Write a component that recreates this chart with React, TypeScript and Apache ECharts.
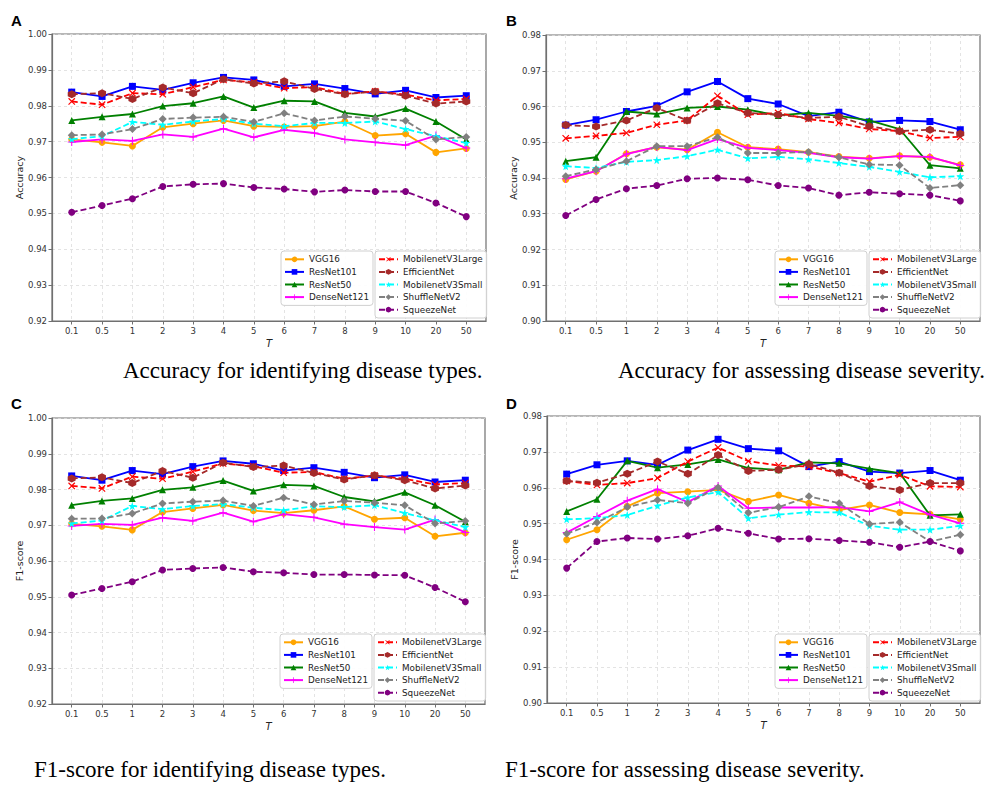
import React, { useEffect, useRef } from 'react';
import * as echarts from 'echarts';

const T_LABELS = ['0.1', '0.5', '1', '2', '3', '4', '5', '6', '7', '8', '9', '10', '20', '50'];
const MODELS = ['VGG16', 'ResNet101', 'ResNet50', 'DenseNet121', 'MobilenetV3Large', 'EfficientNet', 'MobilenetV3Small', 'ShuffleNetV2', 'SqueezeNet'];
const LEGEND_LEFT = ['VGG16', 'ResNet101', 'ResNet50', 'DenseNet121'];
const LEGEND_RIGHT = ['MobilenetV3Large', 'EfficientNet', 'MobilenetV3Small', 'ShuffleNetV2', 'SqueezeNet'];

// Panel A: accuracy, disease types
const A_VGG16 = [0.9706, 0.9698, 0.9688, 0.9740, 0.9750, 0.9759, 0.9743, 0.9741, 0.9743, 0.9756, 0.9717, 0.9722, 0.9670, 0.9681];
const A_RESNET101 = [0.9838, 0.9826, 0.9854, 0.9844, 0.9864, 0.9879, 0.9872, 0.9854, 0.9861, 0.9848, 0.9833, 0.9843, 0.9823, 0.9828];
const A_RESNET50 = [0.9759, 0.9769, 0.9777, 0.9799, 0.9807, 0.9826, 0.9795, 0.9814, 0.9812, 0.9780, 0.9770, 0.9792, 0.9756, 0.9706];
const A_DENSENET121 = [0.9699, 0.9706, 0.9702, 0.9720, 0.9713, 0.9736, 0.9712, 0.9733, 0.9724, 0.9706, 0.9698, 0.9690, 0.9717, 0.9682];
const A_MOBV3L = [0.9812, 0.9803, 0.9835, 0.9832, 0.9852, 0.9872, 0.9865, 0.9849, 0.9852, 0.9833, 0.9840, 0.9831, 0.9815, 0.9819];
const A_EFFICIENT = [0.9832, 0.9835, 0.9819, 0.9851, 0.9835, 0.9874, 0.9862, 0.9868, 0.9847, 0.9832, 0.9840, 0.9828, 0.9806, 0.9812];
const A_MOBV3S = [0.9707, 0.9715, 0.9755, 0.9747, 0.9756, 0.9763, 0.9750, 0.9743, 0.9752, 0.9752, 0.9756, 0.9735, 0.9715, 0.9696];
const A_SHUFFLE = [0.9718, 0.9720, 0.9735, 0.9763, 0.9767, 0.9769, 0.9755, 0.9779, 0.9759, 0.9770, 0.9764, 0.9758, 0.9706, 0.9713];
const A_SQUEEZE = [0.9503, 0.9522, 0.9541, 0.9575, 0.9581, 0.9583, 0.9572, 0.9568, 0.9560, 0.9565, 0.9561, 0.9561, 0.9529, 0.9491];

// Panel B: accuracy, disease severity
const B_VGG16 = [0.9396, 0.9419, 0.9468, 0.9486, 0.9479, 0.9528, 0.9486, 0.9481, 0.9472, 0.9460, 0.9455, 0.9462, 0.9458, 0.9437];
const B_RESNET101 = [0.9548, 0.9563, 0.9586, 0.9602, 0.9641, 0.9670, 0.9622, 0.9607, 0.9573, 0.9584, 0.9557, 0.9561, 0.9558, 0.9535];
const B_RESNET50 = [0.9447, 0.9458, 0.9586, 0.9579, 0.9596, 0.9600, 0.9591, 0.9575, 0.9582, 0.9574, 0.9561, 0.9537, 0.9436, 0.9427];
const B_DENSENET121 = [0.9398, 0.9419, 0.9467, 0.9487, 0.9478, 0.9509, 0.9484, 0.9478, 0.9470, 0.9458, 0.9454, 0.9461, 0.9459, 0.9435];
const B_MOBV3L = [0.9511, 0.9518, 0.9526, 0.9549, 0.9561, 0.9630, 0.9577, 0.9582, 0.9565, 0.9554, 0.9537, 0.9531, 0.9512, 0.9515];
const B_EFFICIENT = [0.9548, 0.9544, 0.9561, 0.9596, 0.9561, 0.9609, 0.9582, 0.9577, 0.9568, 0.9571, 0.9545, 0.9531, 0.9535, 0.9524];
const B_MOBV3S = [0.9433, 0.9428, 0.9445, 0.9450, 0.9461, 0.9479, 0.9455, 0.9459, 0.9452, 0.9442, 0.9431, 0.9417, 0.9402, 0.9405];
const B_SHUFFLE = [0.9405, 0.9424, 0.9447, 0.9489, 0.9489, 0.9514, 0.9470, 0.9470, 0.9473, 0.9458, 0.9438, 0.9436, 0.9372, 0.9380];
const B_SQUEEZE = [0.9295, 0.9340, 0.9370, 0.9379, 0.9398, 0.9400, 0.9395, 0.9379, 0.9372, 0.9352, 0.9360, 0.9356, 0.9352, 0.9336];

// Panel C: F1-score, disease types
const C_VGG16 = [0.9704, 0.9697, 0.9687, 0.9737, 0.9747, 0.9757, 0.9741, 0.9734, 0.9742, 0.9753, 0.9717, 0.9721, 0.9669, 0.9679];
const C_RESNET101 = [0.9838, 0.9826, 0.9853, 0.9843, 0.9864, 0.9880, 0.9872, 0.9853, 0.9861, 0.9848, 0.9833, 0.9841, 0.9821, 0.9826];
const C_RESNET50 = [0.9756, 0.9768, 0.9775, 0.9799, 0.9806, 0.9825, 0.9796, 0.9813, 0.9810, 0.9779, 0.9767, 0.9792, 0.9756, 0.9710];
const C_DENSENET121 = [0.9698, 0.9704, 0.9701, 0.9721, 0.9712, 0.9735, 0.9710, 0.9731, 0.9722, 0.9703, 0.9695, 0.9688, 0.9716, 0.9680];
const C_MOBV3L = [0.9810, 0.9803, 0.9836, 0.9830, 0.9850, 0.9873, 0.9865, 0.9847, 0.9849, 0.9830, 0.9839, 0.9830, 0.9814, 0.9818];
const C_EFFICIENT = [0.9831, 0.9834, 0.9818, 0.9852, 0.9833, 0.9875, 0.9863, 0.9867, 0.9846, 0.9828, 0.9840, 0.9826, 0.9803, 0.9811];
const C_MOBV3S = [0.9705, 0.9713, 0.9754, 0.9745, 0.9754, 0.9759, 0.9749, 0.9742, 0.9753, 0.9751, 0.9756, 0.9734, 0.9714, 0.9695];
const C_SHUFFLE = [0.9718, 0.9719, 0.9733, 0.9761, 0.9766, 0.9769, 0.9754, 0.9777, 0.9758, 0.9768, 0.9763, 0.9756, 0.9705, 0.9712];
const C_SQUEEZE = [0.9505, 0.9523, 0.9542, 0.9575, 0.9579, 0.9582, 0.9570, 0.9567, 0.9562, 0.9562, 0.9561, 0.9560, 0.9526, 0.9486];

// Panel D: F1-score, disease severity
const D_VGG16 = [0.9455, 0.9483, 0.9548, 0.9585, 0.9589, 0.9594, 0.9562, 0.9580, 0.9557, 0.9538, 0.9552, 0.9531, 0.9526, 0.9512];
const D_RESNET101 = [0.9638, 0.9664, 0.9675, 0.9664, 0.9705, 0.9735, 0.9709, 0.9703, 0.9659, 0.9673, 0.9645, 0.9641, 0.9648, 0.9621];
const D_RESNET50 = [0.9534, 0.9568, 0.9675, 0.9656, 0.9665, 0.9679, 0.9655, 0.9650, 0.9671, 0.9668, 0.9653, 0.9641, 0.9523, 0.9526];
const D_DENSENET121 = [0.9475, 0.9520, 0.9564, 0.9596, 0.9560, 0.9605, 0.9543, 0.9545, 0.9545, 0.9546, 0.9534, 0.9560, 0.9525, 0.9501];
const D_MOBV3L = [0.9619, 0.9608, 0.9613, 0.9627, 0.9673, 0.9712, 0.9674, 0.9662, 0.9659, 0.9641, 0.9617, 0.9636, 0.9604, 0.9602];
const D_EFFICIENT = [0.9619, 0.9614, 0.9639, 0.9673, 0.9639, 0.9691, 0.9647, 0.9650, 0.9666, 0.9642, 0.9605, 0.9594, 0.9613, 0.9613];
const D_MOBV3S = [0.9512, 0.9515, 0.9524, 0.9550, 0.9573, 0.9588, 0.9515, 0.9525, 0.9532, 0.9531, 0.9494, 0.9483, 0.9483, 0.9494];
const D_SHUFFLE = [0.9472, 0.9503, 0.9546, 0.9566, 0.9557, 0.9601, 0.9530, 0.9546, 0.9576, 0.9557, 0.9499, 0.9504, 0.9450, 0.9469];
const D_SQUEEZE = [0.9376, 0.9450, 0.9460, 0.9457, 0.9466, 0.9487, 0.9473, 0.9457, 0.9458, 0.9453, 0.9448, 0.9434, 0.9450, 0.9424];

const PANEL_DATA = [
  [A_VGG16, A_RESNET101, A_RESNET50, A_DENSENET121, A_MOBV3L, A_EFFICIENT, A_MOBV3S, A_SHUFFLE, A_SQUEEZE],
  [B_VGG16, B_RESNET101, B_RESNET50, B_DENSENET121, B_MOBV3L, B_EFFICIENT, B_MOBV3S, B_SHUFFLE, B_SQUEEZE],
  [C_VGG16, C_RESNET101, C_RESNET50, C_DENSENET121, C_MOBV3L, C_EFFICIENT, C_MOBV3S, C_SHUFFLE, C_SQUEEZE],
  [D_VGG16, D_RESNET101, D_RESNET50, D_DENSENET121, D_MOBV3L, D_EFFICIENT, D_MOBV3S, D_SHUFFLE, D_SQUEEZE],
];
const Y_MIN = [0.92, 0.90, 0.92, 0.90];
const Y_MAX = [1.00, 0.98, 1.00, 0.98];
const Y_NAMES = ['Accuracy', 'Accuracy', 'F1-score', 'F1-score'];
const LETTERS = ['A', 'B', 'C', 'D'];
const CAPTIONS = [
  'Accuracy for identifying disease types.',
  'Accuracy for assessing disease severity.',
  'F1-score for identifying disease types.',
  'F1-score for assessing disease severity.',
];

// layout (pixels)
const GRIDS = [
  { left: 52, top: 34, width: 434, height: 287 },
  { left: 546, top: 35, width: 434, height: 286 },
  { left: 52, top: 418, width: 433, height: 286 },
  { left: 547, top: 416, width: 433, height: 287 },
];
const LEGEND_POS = [
  [{ left: 281, top: 251 }, { left: 375, top: 251 }],
  [{ left: 775, top: 251 }, { left: 869, top: 251 }],
  [{ left: 280, top: 634 }, { left: 374, top: 634 }],
  [{ left: 775, top: 634 }, { left: 869, top: 634 }],
];
const LETTER_POS = [[11, 13], [506, 13], [11, 396], [506, 396]];
const CAPTION_POS = [[123, 370], [618, 370], [34, 769], [505, 769]];

const PLUS = 'path://M4.35,0H5.65V4.35H10V5.65H5.65V10H4.35V5.65H0V4.35H4.35Z';
const STAR = 'path://M5,0L6.18,3.38L9.76,3.45L6.9,5.62L7.94,9.05L5,7L2.06,9.05L3.1,5.62L0.24,3.45L3.82,3.38Z';
const HEX = 'path://M5,0L9.33,2.5L9.33,7.5L5,10L0.67,7.5L0.67,2.5Z';

const STYLE: Record<string, any> = {
  VGG16: { color: '#FFA500', dashed: false, symbol: 'circle', size: 7, rotate: 0 },
  ResNet101: { color: '#0000FF', dashed: false, symbol: 'rect', size: 7, rotate: 0 },
  ResNet50: { color: '#008000', dashed: false, symbol: 'triangle', size: 7, rotate: 0 },
  DenseNet121: { color: '#FF00FF', dashed: false, symbol: PLUS, size: 8, rotate: 0 },
  MobilenetV3Large: { color: '#FF0000', dashed: true, symbol: PLUS, size: 9, rotate: 45 },
  EfficientNet: { color: '#A52A2A', dashed: true, symbol: HEX, size: 8, rotate: 0 },
  MobilenetV3Small: { color: '#00FFFF', dashed: true, symbol: STAR, size: 8, rotate: 0 },
  ShuffleNetV2: { color: '#808080', dashed: true, symbol: 'diamond', size: 8, rotate: 0 },
  SqueezeNet: { color: '#800080', dashed: true, symbol: 'circle', size: 7, rotate: 0 },
};

const FONT = 'DejaVu Sans';
const IDX = T_LABELS.map((_, i) => i);

export default function App() {
  const ref = useRef<HTMLDivElement>(null);
  useEffect(() => {
    if (!ref.current) return;
    const chart = echarts.init(ref.current, null, { renderer: 'svg' });

    const grid = GRIDS.map((g) => ({ ...g, show: true, borderColor: '#707070', borderWidth: 1.2, backgroundColor: 'transparent' }));

    const xAxis = GRIDS.map((_, p) => ({
      type: 'value', gridIndex: p, min: -0.65, max: 13.65,
      name: 'T', nameLocation: 'middle', nameGap: 17,
      nameTextStyle: { fontStyle: 'italic', fontSize: 10, color: '#222', fontFamily: FONT },
      axisLine: { show: true, onZero: false, lineStyle: { color: '#707070', width: 1.2 } },
      axisTick: { show: true, customValues: IDX, length: 3.5, lineStyle: { color: '#707070', width: 1 } },
      axisLabel: { customValues: IDX, formatter: (v: number) => T_LABELS[Math.round(v)], fontSize: 8.5, color: '#333', margin: 5, fontFamily: FONT },
      splitLine: { show: true, lineStyle: { color: '#dcdcdc', type: [3, 3], width: 0.8 } },
    }));

    const yAxis = GRIDS.map((_, p) => ({
      type: 'value', gridIndex: p, min: Y_MIN[p], max: Y_MAX[p], interval: 0.01,
      name: Y_NAMES[p], nameLocation: 'middle', nameGap: 28,
      nameTextStyle: { fontSize: 9.5, color: '#222', fontFamily: FONT },
      axisLine: { show: true, onZero: false, lineStyle: { color: '#707070', width: 1.2 } },
      axisTick: { show: true, length: 3.5, lineStyle: { color: '#707070', width: 1 } },
      axisLabel: { formatter: (v: number) => v.toFixed(2), fontSize: 8.5, color: '#333', margin: 5, fontFamily: FONT },
      splitLine: { show: true, lineStyle: { color: '#dcdcdc', type: [3, 3], width: 0.8 } },
    }));

    const series: any[] = [];
    PANEL_DATA.forEach((arrs, p) => {
      arrs.forEach((vals, m) => {
        const name = MODELS[m];
        const st = STYLE[name];
        series.push({
          type: 'line', name, xAxisIndex: p, yAxisIndex: p,
          data: vals.map((v, i) => [i, v]),
          symbol: st.symbol, symbolSize: st.size, symbolRotate: st.rotate,
          showSymbol: true,
          lineStyle: { color: st.color, width: 1.8, type: st.dashed ? [6, 3] : 'solid' },
          itemStyle: { color: st.color, borderWidth: 0 },
          z: 2 + m,
          emphasis: { disabled: true },
        });
      });
    });

    const legendBase = {
      orient: 'vertical', itemWidth: 19, itemHeight: 7, itemGap: 0,
      padding: [2, 4, 2, 3], backgroundColor: 'rgba(255,255,255,0.9)', borderColor: '#d0d0d0', borderWidth: 1, borderRadius: 3,
      selectedMode: false,
      textStyle: { fontSize: 8.8, color: '#222', fontFamily: FONT, lineHeight: 12.6 },
      z: 20,
    };
    const legend: any[] = [];
    LEGEND_POS.forEach((pair) => {
      legend.push({ ...legendBase, ...pair[0], data: LEGEND_LEFT });
      legend.push({ ...legendBase, ...pair[1], data: LEGEND_RIGHT });
    });

    const graphic: any[] = [];
    LETTERS.forEach((l, p) => {
      graphic.push({
        type: 'text', left: LETTER_POS[p][0], top: LETTER_POS[p][1],
        style: { text: l, fontSize: 15, fontWeight: 'bold', fontFamily: 'Liberation Sans', fill: '#000' },
      });
      graphic.push({
        type: 'text', x: CAPTION_POS[p][0], y: CAPTION_POS[p][1],
        style: { text: CAPTIONS[p], fontSize: 23, fontFamily: 'Liberation Serif', fill: '#000', verticalAlign: 'middle', align: 'left' },
      });
    });

    chart.setOption({
      animation: false,
      backgroundColor: '#fff',
      grid, xAxis, yAxis, series, legend, graphic,
    });
    return () => chart.dispose();
  }, []);
  return <div ref={ref} style={{ position: 'absolute', left: 0, top: 0, width: 989, height: 785 }} />;
}
